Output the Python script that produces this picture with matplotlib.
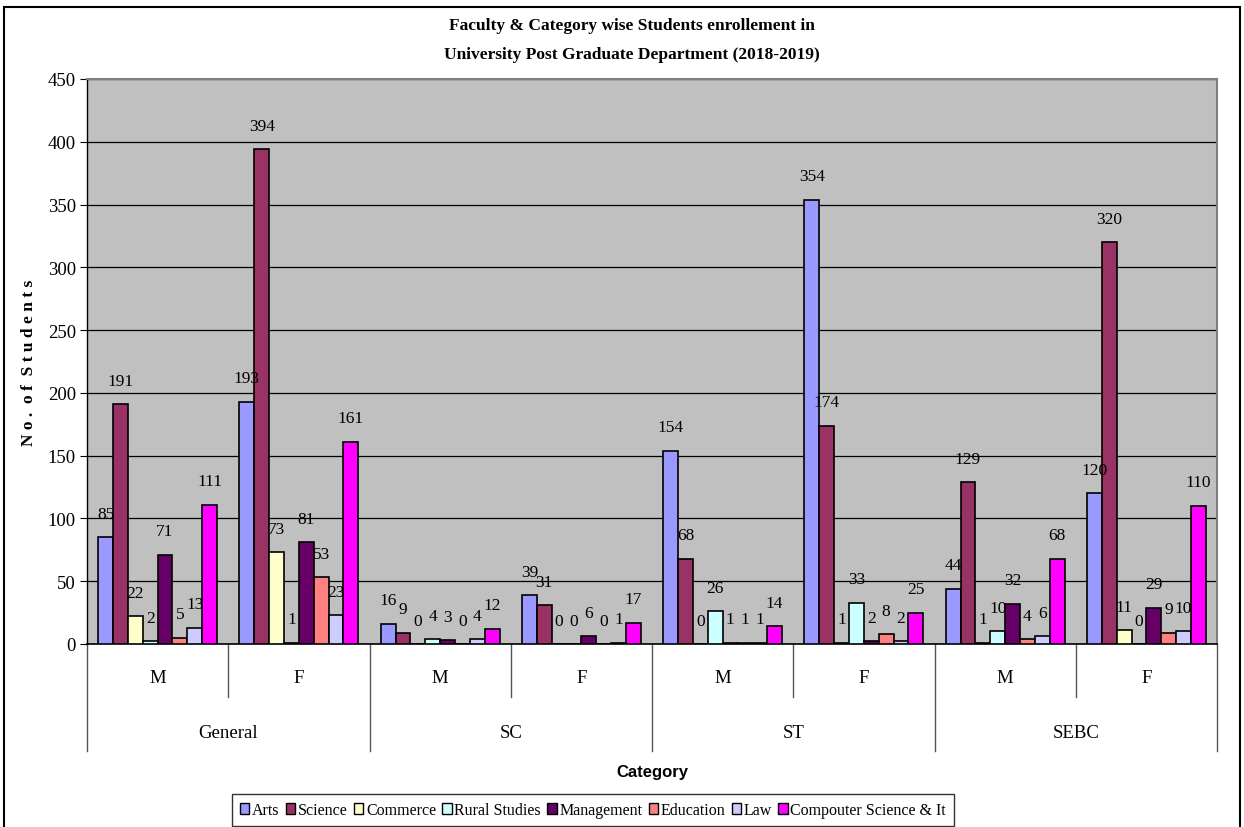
import matplotlib
matplotlib.use("Agg")
import matplotlib.pyplot as plt
from matplotlib.lines import Line2D
from matplotlib.patches import Rectangle
import numpy as np

plt.rcParams['font.family'] = ['Liberation Serif', 'DejaVu Serif']

# data
categories = ['General', 'SC', 'ST', 'SEBC']
genders = ['M', 'F']
faculties = ['Arts', 'Science', 'Commerce', 'Rural Studies', 'Management',
             'Education', 'Law', 'Compouter Science & It']

# one list per faculty, order: General M, General F, SC M, SC F, ST M, ST F, SEBC M, SEBC F
arts = [85, 193, 16, 39, 154, 354, 44, 120]
science = [191, 394, 9, 31, 68, 174, 129, 320]
commerce = [22, 73, 0, 0, 0, 1, 1, 11]
rural = [2, 1, 4, 0, 26, 33, 10, 0]
management = [71, 81, 3, 6, 1, 2, 32, 29]
education = [5, 53, 0, 0, 1, 8, 4, 9]
law = [13, 23, 4, 1, 1, 2, 6, 10]
computer = [111, 161, 12, 17, 14, 25, 68, 110]

series = [arts, science, commerce, rural, management, education, law, computer]
colors = ['#9999FF', '#993366', '#FFFFCC', '#CCFFFF', '#660066',
          '#FF8080', '#CCCCFF', '#FF00FF']

fig = plt.figure(figsize=(12.44, 8.28), dpi=100)
ax = fig.add_axes([87/1244, 1 - 645/828, (1217-87)/1244, 565/828])
ax.set_facecolor('#C0C0C0')

n_sub = len(categories) * len(genders)
x = np.arange(n_sub) + 0.5
w = 1 / 9.5

for j, (vals, col, name) in enumerate(zip(series, colors, faculties)):
    pos = x + (j - 3.5) * w
    bars = ax.bar(pos, vals, w, color=col, edgecolor='black', linewidth=1.2,
                  label=name, zorder=3)
    for b, v in zip(bars, vals):
        ax.annotate(str(v), (b.get_x() + b.get_width()/2, v),
                    xytext=(0, 14), textcoords='offset points',
                    ha='center', va='baseline', fontsize=12.5, zorder=4)

ax.set_xlim(0, n_sub)
ax.set_ylim(0, 450)
ax.set_yticks(range(0, 451, 50))
ax.tick_params(axis='y', labelsize=13.5, length=5, direction='out', pad=3)
ax.set_xticks([])
ax.yaxis.grid(True, color='black', linewidth=0.9, zorder=0)
ax.set_axisbelow(True)
ax.spines['top'].set_color('#808080')
ax.spines['right'].set_color('#808080')
ax.spines['top'].set_linewidth(1.5)
ax.spines['right'].set_linewidth(1.5)
ax.spines['left'].set_linewidth(1)
ax.spines['bottom'].set_linewidth(1.2)

# two level category axis
tr = ax.get_xaxis_transform()
for g in range(len(categories) + 1):
    ax.add_line(Line2D([2*g, 2*g], [0, -0.189], transform=tr, color='#555555',
                       linewidth=1, clip_on=False))
for g, cat in enumerate(categories):
    ax.add_line(Line2D([2*g + 1, 2*g + 1], [0, -0.094], transform=tr,
                       color='#555555', linewidth=1, clip_on=False))
    ax.text(2*g + 1, -0.156, cat, transform=tr, ha='center', va='center',
            fontsize=13.5)
    for k, gen in enumerate(genders):
        ax.text(2*g + k + 0.5, -0.060, gen, transform=tr, ha='center',
                va='center', fontsize=13.5)

ax.text(0.5, -0.2265, 'Category', transform=ax.transAxes, ha='center',
        va='center', fontsize=12, fontweight='bold', family='Liberation Sans')
ax.set_ylabel('N o .  o f  S t u d e n t s', fontsize=12.5, fontweight='bold')
ax.yaxis.set_label_coords(-50/1130, 0.5)

fig.text(632/1244, 1 - 26/828, 'Faculty & Category wise Students enrollement in',
         ha='center', va='center', fontsize=12.5, fontweight='bold')
fig.text(632/1244, 1 - 55/828, 'University Post Graduate Department (2018-2019)',
         ha='center', va='center', fontsize=12.5, fontweight='bold')

leg = fig.legend(loc='center', bbox_to_anchor=(593/1244, 1 - 811/828),
                 ncol=8, fontsize=11.5, frameon=True, fancybox=False,
                 handlelength=0.6, handleheight=0.7, handletextpad=0.15,
                 columnspacing=0.4, borderpad=0.5, borderaxespad=0,
                 edgecolor='black')
leg.get_frame().set_linewidth(1)
for h in leg.legend_handles:
    h.set_linewidth(1)

# outer chart border
fig.patches.append(Rectangle((4/1244, -0.01), 1236/1244, 1 - 8/828 + 0.01,
                             transform=fig.transFigure, fill=False,
                             edgecolor='black', linewidth=1.5))

fig.savefig('out.png', dpi=100)
